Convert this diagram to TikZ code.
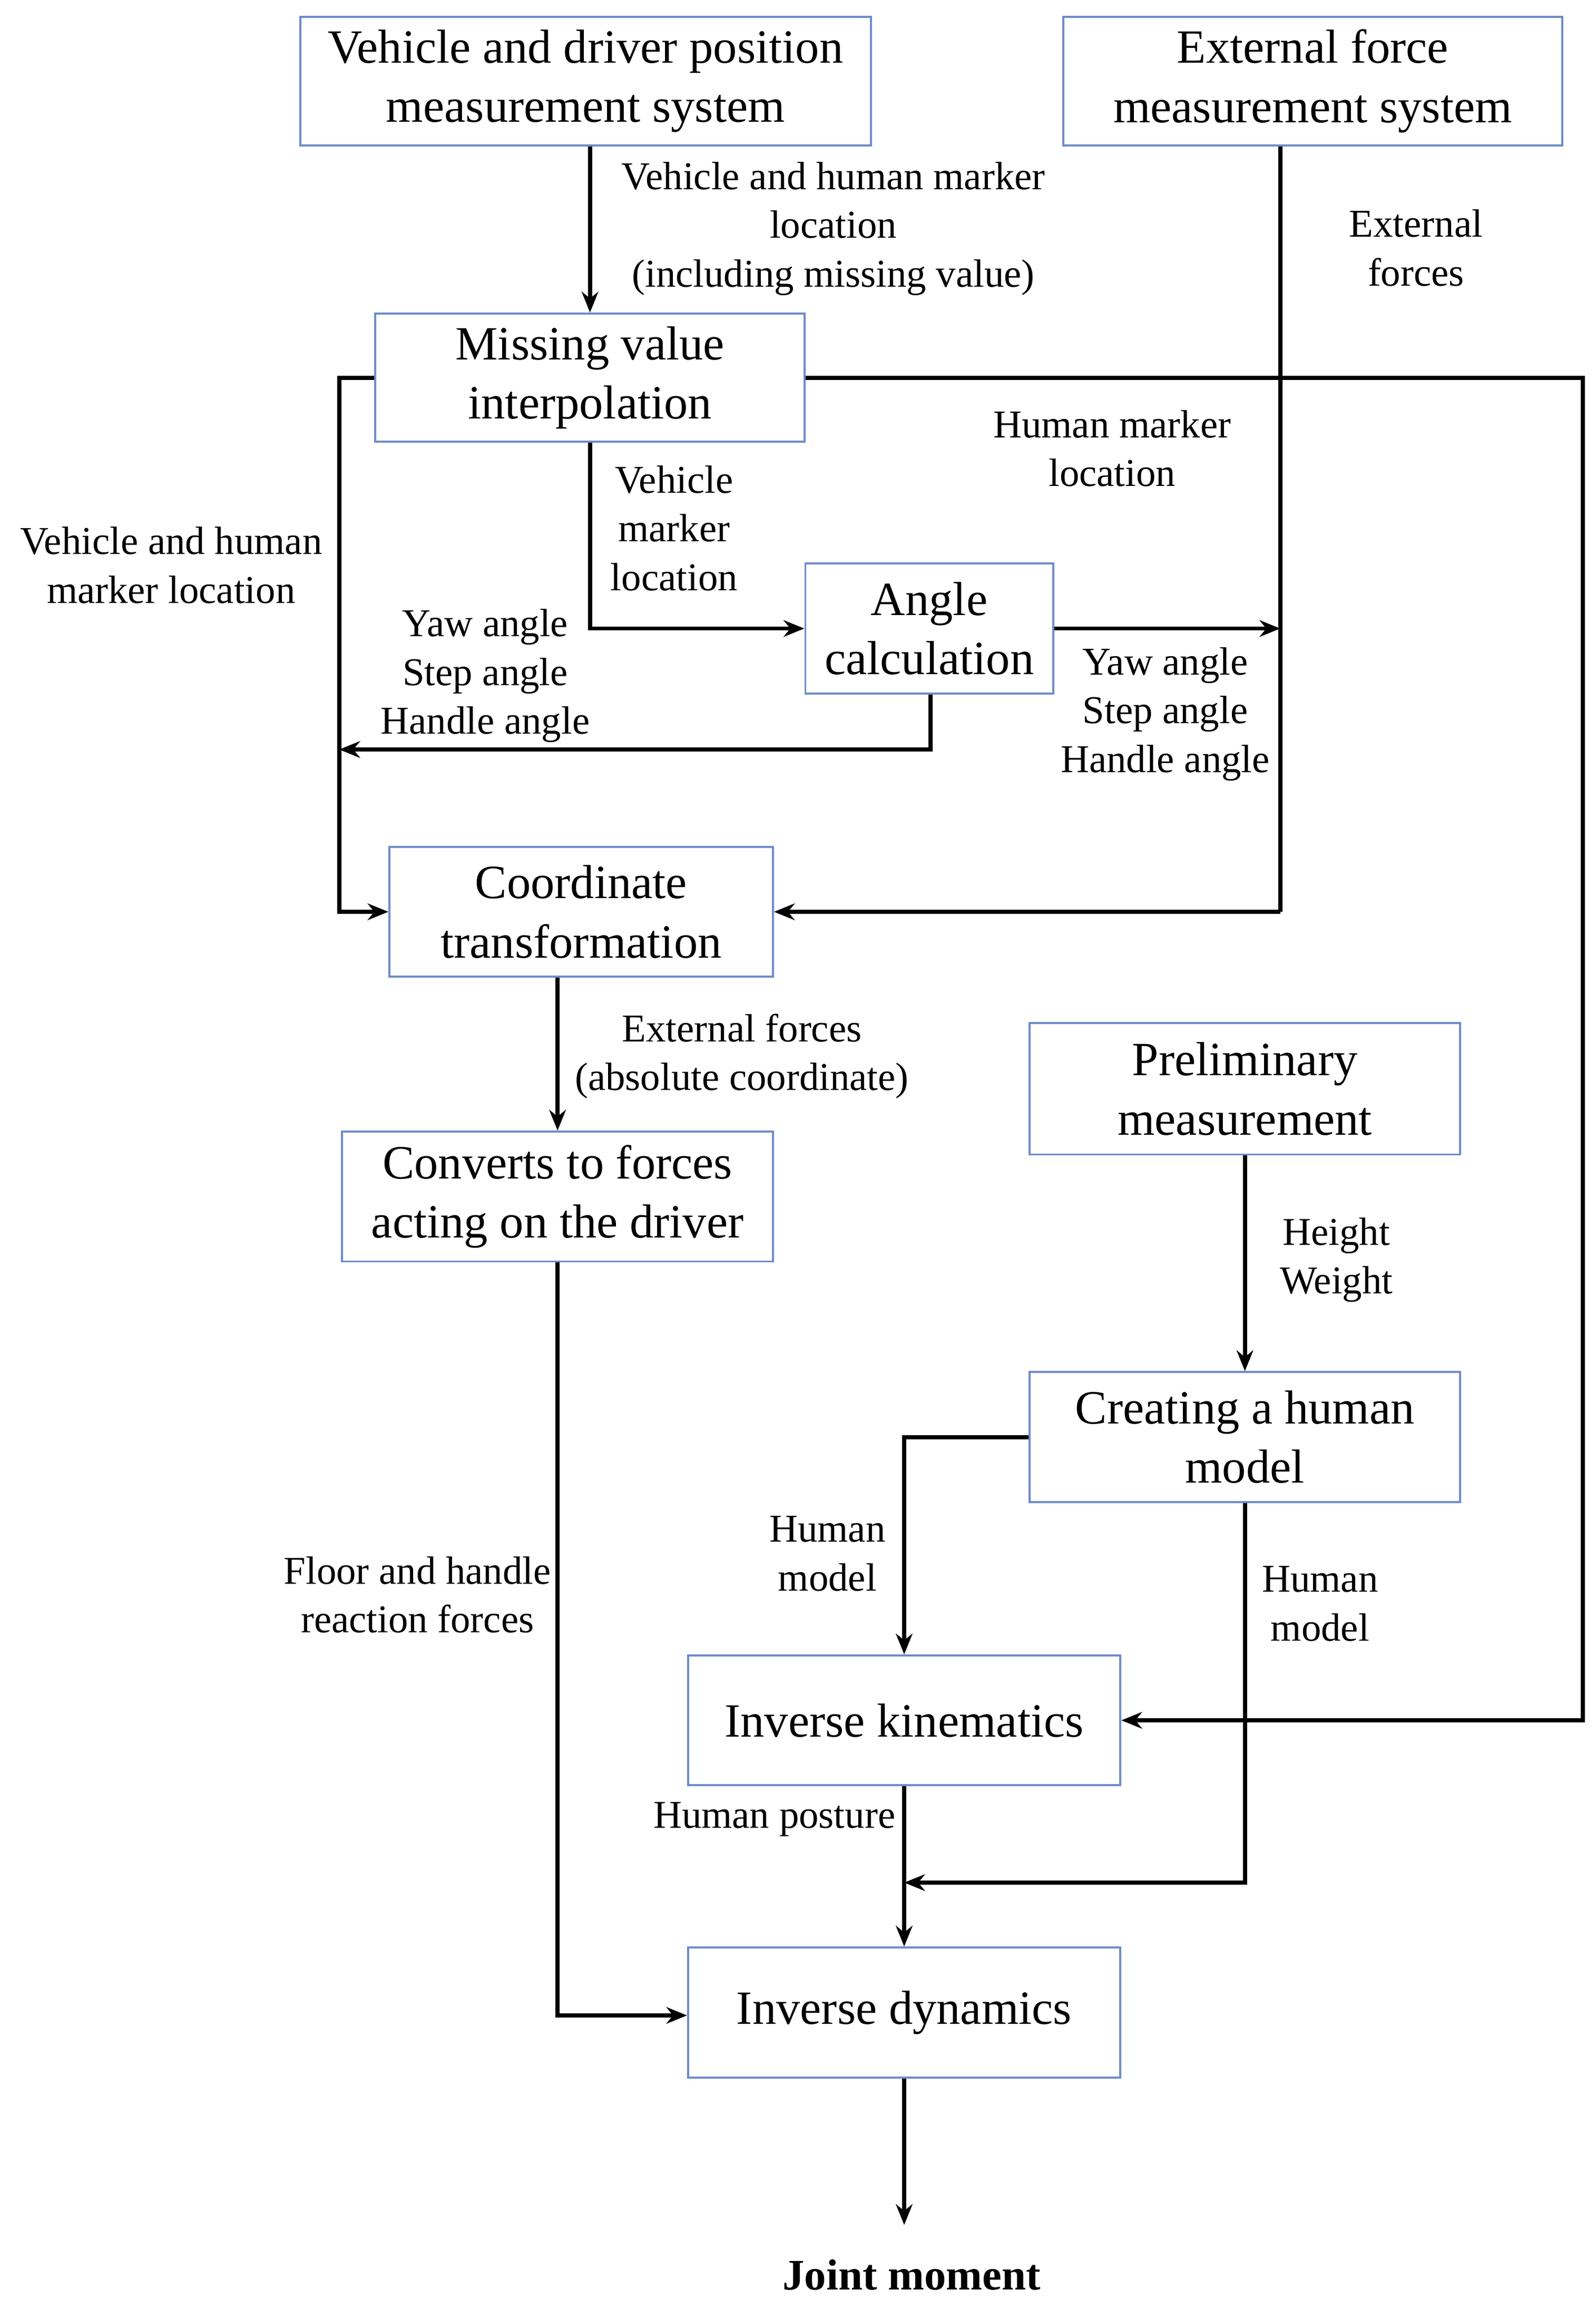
\documentclass[tikz,border=0pt]{standalone}
\usepackage{fontspec}
\setmainfont{Liberation Serif}
\usetikzlibrary{arrows.meta}
\begin{document}
\begin{tikzpicture}[x=0.025cm,y=-0.025cm,
 box/.style={draw={rgb,255:red,110;green,140;blue,200},line width=1pt,fill=white,inner sep=0pt,align=center,font=\fontsize{23}{28.5}\selectfont},
 lab/.style={align=center,font=\fontsize{19}{23.5}\selectfont,inner sep=0pt},
 ar/.style={line width=2pt,-{Stealth[length=10pt,width=8pt]}},
 ln/.style={line width=2pt}]
\useasboundingbox (0,0) rectangle (1082,1565);
\node[box,minimum width=387*0.025cm,minimum height=87*0.025cm] (A) at (397,55) {Vehicle and driver position\\measurement system};
\node[box,minimum width=338*0.025cm,minimum height=87*0.025cm] (B) at (890,55) {External force\\measurement system};
\node[box,minimum width=291*0.025cm,minimum height=87*0.025cm] (C) at (400,256) {Missing value\\interpolation};
\node[box,minimum width=168*0.025cm,minimum height=88*0.025cm] (D) at (630,426) {Angle\\calculation};
\node[box,minimum width=260*0.025cm,minimum height=88*0.025cm] (E) at (394,618) {Coordinate\\transformation};
\node[box,minimum width=292*0.025cm,minimum height=88*0.025cm] (F) at (378,811) {Converts to forces\\acting on the driver};
\node[box,minimum width=292*0.025cm,minimum height=89*0.025cm] (G) at (844,738) {Preliminary\\measurement};
\node[box,minimum width=292*0.025cm,minimum height=88*0.025cm] (H) at (844,974) {Creating a human\\model};
\node[box,minimum width=293*0.025cm,minimum height=88*0.025cm] (I) at (613,1166) {Inverse kinematics};
\node[box,minimum width=293*0.025cm,minimum height=88*0.025cm] (J) at (613,1364) {Inverse dynamics};
\node[lab,font=\fontsize{21}{25}\selectfont\bfseries] (K) at (618,1542) {Joint moment};
\coordinate (KT) at (613,1508);
% connectors
\draw[ar] (A.south-|400,0) -- (C.north);
\coordinate (b1) at (868,618);
\coordinate (bj) at (868,426);
\draw[ln] (B.south-|868,0) -- (b1);
\draw[ar] (b1) -- (E.east);
\draw[ar] (D.east|-0,426) -- (bj);
\coordinate (c1) at (1073,256);
\coordinate (c2) at (1073,1166);
\draw[ln,preaction={draw=white,line width=6pt,shorten <=330*0.025cm,shorten >=0pt}] (C.east) -- (c1);
\draw[ln] (868,240) -- (868,272);
\draw[ar] (C.east) -- (c1) -- (c2) -- (I.east);
\coordinate (l1) at (230,256);
\coordinate (l2) at (230,618);
\draw[ar] (C.west) -- (l1) -- (l2) -- (E.west);
\coordinate (m1) at (400,426);
\draw[ar] (C.south-|400,0) -- (m1) -- (D.west);
\coordinate (d1) at (631,508);
\coordinate (d2) at (230,508);
\draw[ar] (D.south-|631,0) -- (d1) -- (d2);
\draw[ar] (E.south-|378,0) -- (F.north-|378,0);
\coordinate (f1) at (378,1366);
\draw[ar] (F.south) -- (f1) -- (J.west|-f1);
\draw[ar] (G.south) -- (H.north);
\coordinate (h1) at (613,974);
\draw[ar] (H.west) -- (h1) -- (I.north);
\coordinate (h2) at (844,1276);
\coordinate (h3) at (613,1276);
\draw[ar] (H.south) -- (h2) -- (h3);
\draw[ar] (I.south) -- (J.north);
\draw[ar] (J.south) -- (KT);
% labels
\node[lab] at (565,155) {Vehicle and human marker\\location\\(including missing value)};
\node[lab] at (960,168) {External\\forces};
\node[lab] at (754,304) {Human marker\\location};
\node[lab] at (116,383) {Vehicle and human\\marker location};
\node[lab] at (457,358) {Vehicle\\marker\\location};
\node[lab] at (329,458) {Yaw angle\\Step angle\\Handle angle};
\node[lab] at (790,484) {Yaw angle\\Step angle\\Handle angle};
\node[lab] at (503,716) {External forces\\(absolute coordinate)};
\node[lab] at (283,1081) {Floor and handle\\reaction forces};
\node[lab] at (906,854) {Height\\Weight};
\node[lab] at (561,1053) {Human\\model};
\node[lab] at (895,1087) {Human\\model};
\node[lab] at (525,1233) {Human posture};
\end{tikzpicture}
\end{document}
